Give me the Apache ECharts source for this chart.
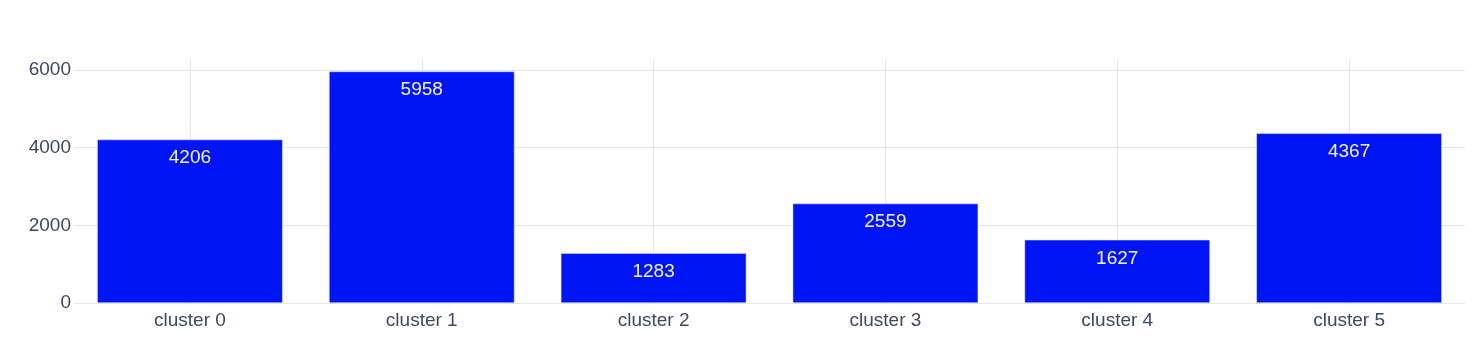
<!DOCTYPE html>
<html>
<head>
<meta charset="utf-8">
<script src="https://cdn.jsdelivr.net/npm/echarts@6/dist/echarts.min.js"></script>
<style>
html,body{margin:0;padding:0;background:#fff;}
#chart{width:1482px;height:338px;}
</style>
</head>
<body>
<div id="chart"></div>
<script>
const categories = ['cluster 0', 'cluster 1', 'cluster 2', 'cluster 3', 'cluster 4', 'cluster 5'];
const counts = [4206, 5958, 1283, 2559, 1627, 4367];
const yTicks = [0, 2000, 4000, 6000];

const chart = echarts.init(document.getElementById('chart'), null, {renderer: 'canvas'});
const font = 'Liberation Sans, Arial, sans-serif';
const grid = '#e6e6e6';
const tickColor = '#3a4a63';
chart.setOption({
  animation: false,
  backgroundColor: '#fff',
  grid: {left: 74, right: 17, top: 59, bottom: 35},
  xAxis: {
    type: 'category',
    data: categories,
    axisLine: {show: false},
    axisTick: {show: false},
    axisLabel: {color: tickColor, fontSize: 19, fontFamily: font, margin: 8},
    splitLine: {show: true, alignWithLabel: true, lineStyle: {color: grid, width: 1}}
  },
  yAxis: {
    type: 'value',
    min: 0,
    max: 6280,
    interval: 2000,
    axisLine: {show: false},
    axisTick: {show: false},
    axisLabel: {
      color: tickColor, fontSize: 19, fontFamily: font, margin: 3,
      showMaxLabel: false,
      formatter: v => (yTicks.indexOf(v) >= 0 ? String(v) : '')
    },
    splitLine: {lineStyle: {color: [grid, grid, grid, grid, 'rgba(0,0,0,0)'], width: 1}}
  },
  series: [{
    type: 'bar',
    data: counts,
    barCategoryGap: '20%',
    itemStyle: {color: '#0015f5', borderColor: '#e5ecf6', borderWidth: 0.5},
    label: {
      show: true,
      position: 'insideTop',
      distance: 9,
      color: '#f2f2f2',
      fontSize: 19,
      fontFamily: font
    }
  }]
});
</script>
</body>
</html>
